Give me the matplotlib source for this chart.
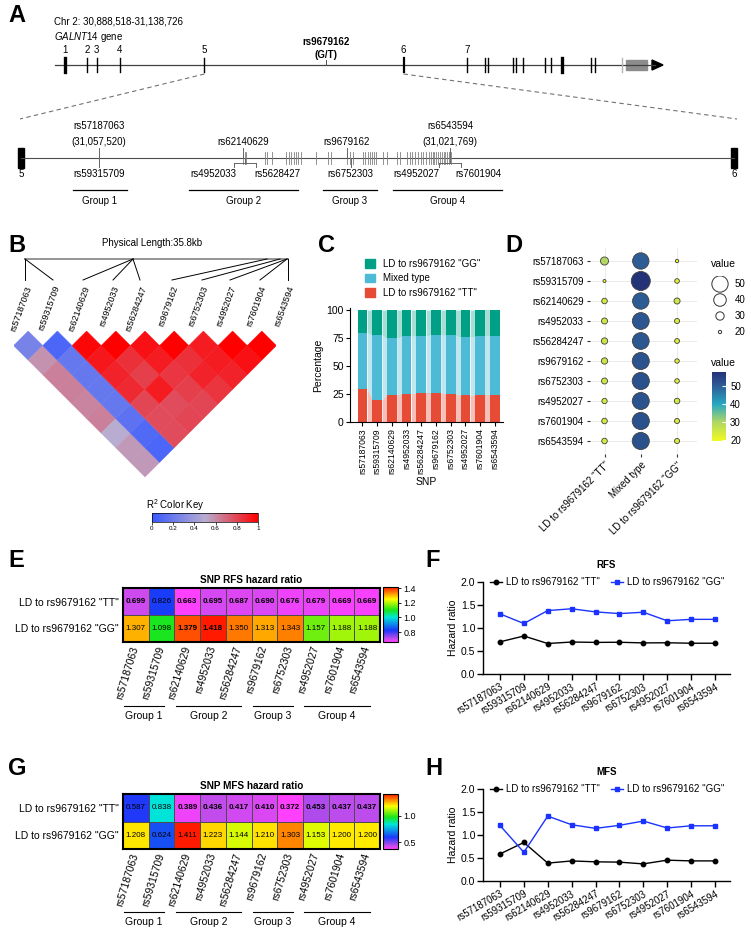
import numpy as np
import matplotlib
matplotlib.use('Agg')
import matplotlib.pyplot as plt
from matplotlib.colors import LinearSegmentedColormap, Normalize
from matplotlib.collections import PolyCollection
from matplotlib.patches import Patch, Rectangle, Polygon
from matplotlib.ticker import FormatStrFormatter
from matplotlib.transforms import blended_transform_factory, ScaledTranslation
import matplotlib.cm as cm

plt.rcParams['font.family'] = ['Liberation Sans', 'DejaVu Sans']
plt.rcParams['mathtext.fontset'] = 'custom'
plt.rcParams['mathtext.rm'] = 'Liberation Sans'
plt.rcParams['mathtext.it'] = 'Liberation Sans:italic'
plt.rcParams['mathtext.bf'] = 'Liberation Sans:bold'

# --- data ---
snps = ['rs57187063', 'rs59315709', 'rs62140629', 'rs4952033', 'rs56284247',
        'rs9679162', 'rs6752303', 'rs4952027', 'rs7601904', 'rs6543594']

# percentage of patients per LD class (panel C / D)
pct_tt = [29.5, 19.5, 24.3, 25.2, 25.8, 25.8, 25.2, 23.8, 24.3, 24.3]
pct_mixed = [50.3, 58.0, 50.4, 51.5, 51.3, 52.1, 52.4, 52.0, 52.4, 52.4]
pct_gg = [20.2, 22.5, 25.3, 23.3, 22.9, 22.1, 22.4, 24.2, 23.3, 23.3]

# hazard ratios (panels E-H)
rfs_tt = [0.699, 0.826, 0.663, 0.695, 0.687, 0.690, 0.676, 0.679, 0.669, 0.669]
rfs_gg = [1.307, 1.098, 1.379, 1.418, 1.350, 1.313, 1.343, 1.157, 1.188, 1.188]
mfs_tt = [0.587, 0.838, 0.389, 0.436, 0.417, 0.410, 0.372, 0.453, 0.437, 0.437]
mfs_gg = [1.208, 0.624, 1.411, 1.223, 1.144, 1.210, 1.303, 1.153, 1.200, 1.200]
rfs_tt_bold = [1, 0, 1, 1, 1, 1, 1, 1, 1, 1]
rfs_gg_bold = [0, 0, 1, 1, 0, 0, 0, 0, 0, 0]
mfs_tt_bold = [0, 0, 1, 1, 1, 1, 1, 1, 1, 1]
mfs_gg_bold = [0, 0, 0, 0, 0, 0, 0, 0, 0, 0]

# pairwise LD r^2, row i = SNP i against SNPs i+1..9
r2_rows = [
    [0.25, 0.58, 0.63, 0.63, 0.62, 0.63, 0.50, 0.56, 0.56],
    [0.08, 0.18, 0.18, 0.18, 0.18, 0.15, 0.10, 0.08],
    [0.98, 0.93, 0.90, 0.88, 0.80, 0.78, 0.78],
    [1.00, 0.86, 0.82, 0.92, 0.78, 0.80],
    [0.95, 0.92, 0.84, 0.82, 0.80],
    [1.00, 0.86, 0.90, 0.85],
    [0.92, 0.92, 0.90],
    [1.00, 0.95],
    [1.00],
]

groups = [('Group 1', 0, 1), ('Group 2', 2, 4), ('Group 3', 5, 6), ('Group 4', 7, 9)]

# gene schematic (pixel positions along the drawn line)
exon_x = [64.6, 87, 96.6, 119.6, 204.4, 403.5, 466.7, 485, 488, 513, 515.5,
          522.7, 544.7, 551.4, 562.4, 591, 594.5]
exon_lw = [2.4, 1, 1, 1, 1, 1.6, 1, 1, 1, 1, 1, 1, 1, 1, 2.4, 1, 1]
exon_num = ['1', '2', '3', '4', '5', '6', '7']
snp_ticks = [99, 243.3, 244.7, 246.1, 264.8, 267.2, 272, 286.4, 288.8, 291.2, 293.6,
             296, 298.3, 300.7, 316.1, 328, 331.4, 347.2, 349.6, 352.9, 363, 365.4,
             367.8, 369.7, 371.6, 373.5, 375.9, 383.1, 387, 396.5, 399.9, 407.1,
             409.5, 411.9, 414.7, 417.6, 420.5, 423.4, 426.2, 428.6, 430.5, 432.5,
             433.9, 435.8, 437.7, 439.6, 441.6, 443.5, 445.4, 447.3, 449.2, 451.1]

c_tt, c_mix, c_gg = '#E64B35', '#4DBBD5', '#00A087'

W, H = 751, 930
fig = plt.figure(figsize=(W / 100, H / 100), dpi=100)


def px_axes(x0, y0, x1, y1):
    return fig.add_axes([x0 / W, 1 - y1 / H, (x1 - x0) / W, (y1 - y0) / H])


ov = px_axes(0, 0, W, H)
ov.set_xlim(0, W)
ov.set_ylim(H, 0)
ov.axis('off')

for lab, lx, ly in [('A', 8, 15), ('B', 8, 245), ('C', 318, 245), ('D', 505, 245),
                    ('E', 8, 560), ('F', 425, 560), ('G', 8, 768), ('H', 425, 768)]:
    ov.text(lx, ly, lab, fontsize=17, fontweight='bold', va='center', ha='left')

# --- A: gene structure ---
ov.text(54, 22, 'Chr 2: 30,888,518-31,138,726', fontsize=7, va='center')
ov.text(54, 37, r'$\it{GALNT14}$ gene', fontsize=7, va='center')
ov.text(326.4, 42, 'rs9679162', fontsize=7, fontweight='bold', ha='center', va='center')
ov.text(326.4, 55, '(G/T)', fontsize=7, fontweight='bold', ha='center', va='center')
ov.plot([55, 655], [65, 65], color='0.25', lw=0.9)
ov.add_patch(Polygon([(652, 60), (663, 65), (652, 70)], closed=True, color='black'))
for ex, lw in zip(exon_x, exon_lw):
    ov.plot([ex, ex], [58, 72], color='black', lw=lw)
ov.plot([622, 622], [58, 72], color='0.7', lw=1)
ov.add_patch(Rectangle((626, 60), 21, 10, color='0.55'))
ov.plot([326.4, 326.4], [60, 65], color='0.3', lw=0.7)
for num, ex in zip(exon_num, [64.6, 87, 96.6, 119.6, 204.4, 403.5, 466.7]):
    ov.text(ex, 50, num, fontsize=7, ha='center', va='center')
ov.plot([204.4, 20], [74, 119], ls=(0, (4, 3)), color='0.45', lw=0.8)
ov.plot([403.5, 737], [74, 119], ls=(0, (4, 3)), color='0.45', lw=0.8)

ov.plot([21, 734], [158, 158], color='0.3', lw=0.8)
ov.add_patch(Rectangle((18, 148), 6, 20, color='black'))
ov.add_patch(Rectangle((731, 148), 6, 20, color='black'))
ov.text(21, 174, '5', fontsize=7, ha='center', va='center')
ov.text(734, 174, '6', fontsize=7, ha='center', va='center')
for sx in snp_ticks:
    ov.plot([sx, sx], [152, 164], color='0.5', lw=0.6)

ov.text(99, 126, 'rs57187063', fontsize=7, ha='center', va='center')
ov.text(99, 142, '(31,057,520)', fontsize=7, ha='center', va='center')
ov.plot([99, 99], [148, 167], color='0.4', lw=0.7)
ov.text(99, 174, 'rs59315709', fontsize=7, ha='center', va='center')
ov.text(243, 142, 'rs62140629', fontsize=7, ha='center', va='center')
ov.plot([243, 243], [148, 158], color='0.4', lw=0.7)
ov.text(347, 142, 'rs9679162', fontsize=7, ha='center', va='center')
ov.plot([347, 347], [148, 158], color='0.4', lw=0.7)
ov.text(450, 126, 'rs6543594', fontsize=7, ha='center', va='center')
ov.text(450, 142, '(31,021,769)', fontsize=7, ha='center', va='center')
ov.plot([450, 450], [148, 158], color='0.4', lw=0.7)
ov.text(350.5, 174, 'rs6752303', fontsize=7, ha='center', va='center')
ov.plot([350.5, 350.5], [158, 167], color='0.4', lw=0.7)
for cxb, l1, l2, xa, xb in [(245, 'rs4952033', 'rs5628427', 213, 277),
                            (450, 'rs4952027', 'rs7601904', 416.6, 478)]:
    ov.plot([cxb, cxb], [158, 163], color='0.4', lw=0.7)
    ov.plot([cxb - 11, cxb + 11], [163, 163], color='0.4', lw=0.7)
    ov.plot([cxb - 11, cxb - 11], [163, 167], color='0.4', lw=0.7)
    ov.plot([cxb + 11, cxb + 11], [163, 167], color='0.4', lw=0.7)
    ov.text(xa, 174, l1, fontsize=7, ha='center', va='center')
    ov.text(xb, 174, l2, fontsize=7, ha='center', va='center')
for (name, _, _), (g0, g1) in zip(groups, [(73, 127), (189, 298), (323, 377), (393, 502)]):
    ov.plot([g0, g1], [190, 190], color='black', lw=0.9)
    ov.text((g0 + g1) / 2, 201, name, fontsize=7, ha='center', va='center')

# --- B: LD heat map ---
r2_cmap = LinearSegmentedColormap.from_list(
    'r2', [(0, (0.22, 0.35, 1.0)), (0.5, (0.72, 0.68, 0.82)), (1, (1.0, 0.0, 0.0))])
ov.text(152, 243, 'Physical Length:35.8kb', fontsize=7, ha='center', va='center')
ov.plot([25, 288], [259, 259], color='0.55', lw=1.3)
fan_top = [25, 25, 133, 133, 133, 267, 280, 287, 287, 288]
fan_bot = [25, 53, 83, 113, 140, 172, 202, 230, 260, 288]
for i, name in enumerate(snps):
    ov.plot([fan_top[i], fan_bot[i]], [259, 280], color='black', lw=0.7)
    ov.text(fan_bot[i] + 4, 286, name, fontsize=6.5, rotation=70, rotation_mode='anchor',
            ha='right', va='center')

ax_b = px_axes(13.6, 331, 276.4, 477)
ax_b.set_xlim(0, 9)
ax_b.set_ylim(-5, 0)
ax_b.axis('off')
verts, vals = [], []
for i, row in enumerate(r2_rows):
    for k, v in enumerate(row):
        j = i + 1 + k
        cx = 0.5 + (i + j - 1) / 2
        cy = -0.5 - (j - i - 1) / 2
        verts.append([(cx - 0.5, cy), (cx, cy + 0.5), (cx + 0.5, cy), (cx, cy - 0.5)])
        vals.append(v)
pc = PolyCollection(verts, array=np.array(vals), cmap=r2_cmap, norm=Normalize(0, 1),
                    edgecolors='face', linewidths=0.3)
ax_b.add_collection(pc)

ov.text(175, 505, r'R$^2$ Color Key', fontsize=7, ha='center', va='center')
cax_b = px_axes(152, 513, 258, 522)
cb = fig.colorbar(pc, cax=cax_b, orientation='horizontal', ticks=[0, 0.2, 0.4, 0.6, 0.8, 1])
cb.ax.set_xticklabels(['0', '0.2', '0.4', '0.6', '0.8', '1'])
cb.ax.tick_params(labelsize=4.5, length=2, width=0.5, pad=1)
cb.outline.set_linewidth(0.5)

# --- C: stacked bars ---
ax_c = px_axes(350, 308, 503, 422)
x = np.arange(len(snps))
bw = 0.66
tt = np.array(pct_tt)
mx = np.array(pct_mixed)
gg = np.array(pct_gg)
for lo, hi, col in [(np.zeros(len(x)), tt, c_tt), (tt, tt + mx, c_mix), (tt + mx, tt + mx + gg, c_gg)]:
    ax_c.bar(x, hi - lo, bottom=lo, width=bw, color=col, linewidth=0)
    for k in range(len(x) - 1):
        ax_c.fill_between([x[k] + bw / 2, x[k + 1] - bw / 2], [lo[k], lo[k + 1]],
                          [hi[k], hi[k + 1]], color=col, alpha=0.35, linewidth=0)
ax_c.set_xlim(-0.85, 9.56)
ax_c.set_ylim(0, 101.8)
ax_c.set_yticks([0, 25, 50, 75, 100])
ax_c.set_xticks(x)
ax_c.set_xticklabels(snps, rotation=90, fontsize=6.2)
ax_c.tick_params(axis='y', labelsize=7.5, length=3, pad=1.5)
ax_c.tick_params(axis='x', length=3, pad=1.5)
ax_c.spines[['top', 'right']].set_visible(False)
ax_c.set_ylabel('Percentage', fontsize=7.5, labelpad=2)
ax_c.set_xlabel('SNP', fontsize=7.5, labelpad=2)
handles = [Patch(color=c_gg), Patch(color=c_mix), Patch(color=c_tt)]
ax_c.legend(handles, ['LD to rs9679162 "GG"', 'Mixed type', 'LD to rs9679162 "TT"'],
            loc='upper left', bbox_to_anchor=(0.1, 1.43), frameon=False, fontsize=7,
            handlelength=1.0, handleheight=1.0, labelspacing=0.45, handletextpad=0.8,
            borderpad=0, borderaxespad=0)

# --- D: dot plot ---
cmap_d = LinearSegmentedColormap.from_list(
    'dots', [(0, (0.95, 0.98, 0.12)), (0.275, (0.68, 0.84, 0.40)), (0.534, (0.15, 0.66, 0.76)),
             (0.793, (0.18, 0.37, 0.59)), (1.0, (0.14, 0.2, 0.47))])
d_vals = np.array([pct_tt, pct_mixed, pct_gg])
vmin_d, vmax_d = d_vals.min(), d_vals.max()
norm_d = Normalize(vmin_d, vmax_d)


def dot_size(v):
    r = 1.5 + (np.sqrt(v) - np.sqrt(vmin_d)) / (np.sqrt(vmax_d) - np.sqrt(vmin_d)) * 8.0
    return (2 * r * 0.72) ** 2


ax_d = px_axes(590, 248, 697, 454)
for c in range(3):
    ax_d.scatter(np.full(len(snps), c), np.arange(len(snps)), s=dot_size(d_vals[c]),
                 c=d_vals[c], cmap=cmap_d, norm=norm_d, edgecolors='0.25', linewidths=0.6, zorder=3)
ax_d.set_xlim(-0.4, 2.55)
ax_d.set_ylim(9.65, -0.65)
ax_d.set_yticks(np.arange(len(snps)))
ax_d.set_yticklabels(snps, fontsize=7)
ax_d.set_xticks([0, 1, 2])
ax_d.set_xticklabels(['LD to rs9679162 "TT"', 'Mixed type', 'LD to rs9679162 "GG"'],
                     rotation=45, ha='right', rotation_mode='anchor', fontsize=7)
ax_d.tick_params(length=2.5, width=0.8, color='0.2', pad=2)
ax_d.grid(True, color='0.92', lw=0.7)
ax_d.set_axisbelow(True)
for s in ax_d.spines.values():
    s.set_visible(False)

ov.text(711, 264, 'value', fontsize=7.5, va='center')
ax_sl = px_axes(705, 276, 735, 340)
leg_vals = np.array([50, 40, 30, 20])
ax_sl.scatter(np.zeros(4), np.arange(4), s=dot_size(leg_vals), facecolors='white',
              edgecolors='0.2', linewidths=0.7)
for k, v in enumerate(leg_vals):
    ax_sl.text(1.0, k, str(v), fontsize=7, va='center', ha='left')
ax_sl.set_xlim(-1, 1)
ax_sl.set_ylim(3.5, -0.5)
ax_sl.axis('off')

ov.text(711, 363, 'value', fontsize=7.5, va='center')
cax_d = px_axes(712, 372, 726, 441)
cbd = fig.colorbar(cm.ScalarMappable(norm=norm_d, cmap=cmap_d), cax=cax_d, ticks=[20, 30, 40, 50])
cbd.outline.set_visible(False)
cbd.ax.tick_params(labelsize=7, length=3, color='white', direction='in', pad=3)


# --- E / G: hazard ratio heat maps ---
hr_cmap = LinearSegmentedColormap.from_list(
    'hr', [(0.0, (1.0, 0.25, 1.0)), (0.06, (0.75, 0.3, 0.92)), (0.21, (0.1, 0.22, 0.98)),
           (0.45, (0.0, 0.9, 0.85)), (0.58, (0.1, 0.9, 0.1)), (0.78, (1.0, 1.0, 0.0)),
           (1.0, (1.0, 0.1, 0.0))])


def hr_heat(ax, cax, tt_vals, gg_vals, tt_bold, gg_bold, title, cticks, y_line):
    data = np.array([tt_vals, gg_vals])
    mesh = ax.pcolormesh(data, cmap=hr_cmap, norm=Normalize(data.min(), data.max()),
                         edgecolors='0.3', linewidth=0.5)
    for i, (vals, bolds) in enumerate([(tt_vals, tt_bold), (gg_vals, gg_bold)]):
        for j, v in enumerate(vals):
            ax.text(j + 0.5, i + 0.5, f'{v:.3f}', ha='center', va='center', fontsize=5.8,
                    fontweight='bold' if bolds[j] else 'normal')
    ax.set_yticks([0.5, 1.5])
    ax.set_yticklabels(['LD to rs9679162 "TT"', 'LD to rs9679162 "GG"'], fontsize=7.5)
    ax.set_xticks(np.arange(len(snps)) + 0.5)
    ax.set_xticklabels(snps, rotation=73, ha='right', va='center', rotation_mode='anchor',
                       fontsize=7.5)
    off = ScaledTranslation(4 / 100, 0, fig.dpi_scale_trans)
    for lbl in ax.get_xticklabels():
        lbl.set_transform(lbl.get_transform() + off)
    ax.tick_params(length=0, pad=3)
    for s in ax.spines.values():
        s.set_linewidth(1.5)
    ax.set_title(title, fontsize=7.2, fontweight='bold', pad=3.5)
    tr = blended_transform_factory(ax.transData, ov.transData)
    for name, a, b in groups:
        ax.plot([a + 0.05, b + 0.6], [y_line, y_line], color='black', lw=0.8,
                transform=tr, clip_on=False)
        ax.text((a + b + 0.65) / 2, y_line + 10, name, transform=tr, ha='center',
                va='center', fontsize=7.5)
    ax.set_xlim(0, len(snps))
    ax.set_ylim(2, 0)
    cbh = fig.colorbar(mesh, cax=cax, ticks=cticks)
    cbh.ax.yaxis.set_major_formatter(FormatStrFormatter('%.1f'))
    cbh.ax.tick_params(labelsize=6.5, length=2.5, width=0.6, pad=1.5)
    cbh.outline.set_linewidth(0.8)


ax_e = px_axes(123, 588, 380, 642)
cax_e = px_axes(383, 587, 398, 642)
hr_heat(ax_e, cax_e, rfs_tt, rfs_gg, rfs_tt_bold, rfs_gg_bold, 'SNP RFS hazard ratio',
        [0.8, 1.0, 1.2, 1.4], 706)

ax_g = px_axes(123, 794, 380, 849)
cax_g = px_axes(383, 794, 398, 849)
hr_heat(ax_g, cax_g, mfs_tt, mfs_gg, mfs_tt_bold, mfs_gg_bold, 'SNP MFS hazard ratio',
        [0.5, 1.0], 912)


# --- F / H: hazard ratio lines ---
def hr_line(ax, tt_vals, gg_vals, title):
    ax.plot(x, tt_vals, color='black', marker='o', ms=3.2, lw=1, label='LD to rs9679162 "TT"')
    ax.plot(x, gg_vals, color='#1a33ff', marker='s', ms=3.2, lw=1, label='LD to rs9679162 "GG"')
    ax.set_xlim(-0.71, 9.63)
    ax.set_ylim(0, 2.0)
    ax.set_yticks([0, 0.5, 1.0, 1.5, 2.0])
    ax.set_yticklabels(['0.0', '0.5', '1.0', '1.5', '2.0'])
    ax.set_xticks(x)
    ax.set_xticklabels(snps, rotation=30, ha='right', rotation_mode='anchor', fontsize=7)
    ax.tick_params(axis='y', labelsize=7.5, length=4, width=1, pad=1.5)
    ax.tick_params(axis='x', length=4, width=1, pad=1.5)
    ax.spines[['top', 'right']].set_visible(False)
    ax.spines[['left', 'bottom']].set_linewidth(1)
    ax.set_ylabel('Hazard ratio', fontsize=7.5, labelpad=2)
    ax.set_title(title, fontsize=7, fontweight='bold', pad=10)
    ax.legend(loc='center left', bbox_to_anchor=(0.028, 1.0), ncol=2, frameon=False,
              fontsize=7, handlelength=1.25, handletextpad=0.4, columnspacing=1.1,
              borderpad=0, borderaxespad=0)


ax_f = px_axes(483, 582, 730, 674)
hr_line(ax_f, rfs_tt, rfs_gg, 'RFS')
ax_h = px_axes(483, 789, 730, 881)
hr_line(ax_h, mfs_tt, mfs_gg, 'MFS')

fig.savefig('out.png', dpi=100)
